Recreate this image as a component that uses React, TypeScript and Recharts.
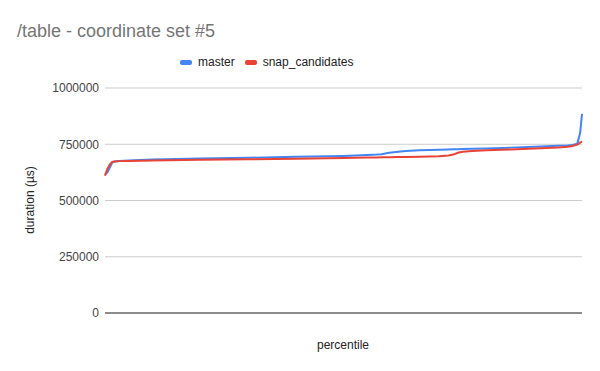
import React from 'react';
import { LineChart, Line, XAxis, YAxis, CartesianGrid, ReferenceLine } from 'recharts';

const percentiles = [0, 0.5, 1, 1.5, 2, 3, 5, 10, 20, 30, 40, 50, 55, 57, 58, 59, 60, 61, 63, 66, 70, 72, 73, 74, 75, 77, 80, 85, 90, 95, 97, 98, 99, 99.3, 99.6, 99.8, 100];

const masterValues = [615000, 625000, 645000, 668000, 673000, 676000, 678000, 682000, 687000, 690000, 694000, 698000, 702000, 704000, 706000, 710000, 713000, 716000, 720000, 723000, 726000, 727000, 727500, 728000, 728500, 729500, 731000, 735000, 739000, 743000, 745000, 747000, 752000, 775000, 800000, 840000, 885000];

const snapValues = [610000, 640000, 660000, 671000, 673000, 675000, 676000, 678000, 681000, 683000, 686000, 689000, 691000, 691500, 692000, 692000, 692500, 693000, 693500, 694500, 697000, 700000, 704000, 712000, 717000, 720000, 723000, 727000, 731000, 736000, 739000, 742000, 748000, 752000, 757000, 760000, 762000];

const yTicks = [0, 250000, 500000, 750000, 1000000];

const seriesNames = ['master', 'snap_candidates'];
const seriesColors = ['#4285F4', '#EA4335'];

const data = percentiles.map((p, i) => ({
  p,
  master: masterValues[i],
  snap_candidates: snapValues[i],
}));

const font = 'Arial, "Liberation Sans", sans-serif';

export default function App() {
  return (
    <div style={{ position: 'absolute', left: 0, top: 0, width: 600, height: 371, background: '#fff' }}>
      <div style={{ position: 'absolute', left: 17, top: 21, fontFamily: font, fontSize: 18, color: '#757575', whiteSpace: 'nowrap' }}>
        /table - coordinate set #5
      </div>
      <div style={{ position: 'absolute', left: 180, top: 54, display: 'flex', fontFamily: font, fontSize: 12, color: '#222', lineHeight: '16px' }}>
        {seriesNames.map((n, i) => (
          <div key={n} style={{ display: 'flex', alignItems: 'center', marginRight: i === 0 ? 10 : 0 }}>
            <span style={{ display: 'inline-block', width: 12, height: 5, borderRadius: 2, background: seriesColors[i], marginRight: 6 }} />
            <span>{n}</span>
          </div>
        ))}
      </div>
      <div style={{ position: 'absolute', left: 30, top: 200, width: 0, height: 0 }}>
        <div style={{ position: 'absolute', transform: 'translate(-50%, -50%) rotate(-90deg)', fontFamily: font, fontSize: 12, color: '#222', whiteSpace: 'nowrap' }}>
          duration (µs)
        </div>
      </div>
      <div style={{ position: 'absolute', left: 343, top: 345, width: 0, height: 0 }}>
        <div style={{ position: 'absolute', transform: 'translate(-50%, -50%)', fontFamily: font, fontSize: 12, color: '#222', whiteSpace: 'nowrap' }}>
          percentile
        </div>
      </div>
      <div style={{ position: 'absolute', left: 0, top: 0 }}>
        <LineChart width={600} height={371} data={data} margin={{ top: 88, right: 18, bottom: 58, left: 0 }}>
          <CartesianGrid vertical={false} stroke="#cccccc" />
          <XAxis dataKey="p" type="number" domain={[0, 100]} tick={false} tickLine={false} axisLine={false} height={0} />
          <YAxis
            width={105}
            domain={[0, 1000000]}
            ticks={yTicks}
            tickLine={false}
            axisLine={false}
            tickSize={4}
            tickMargin={2}
            interval={0}
            tick={{ fontFamily: font, fontSize: 12, fill: '#444444' }}
          />
          <ReferenceLine y={0} stroke="#333333" strokeWidth={1} />
          {seriesNames.map((n, i) => (
            <Line key={n} type="linear" dataKey={n} stroke={seriesColors[i]} strokeWidth={2} dot={false} isAnimationActive={false} />
          ))}
        </LineChart>
      </div>
    </div>
  );
}
